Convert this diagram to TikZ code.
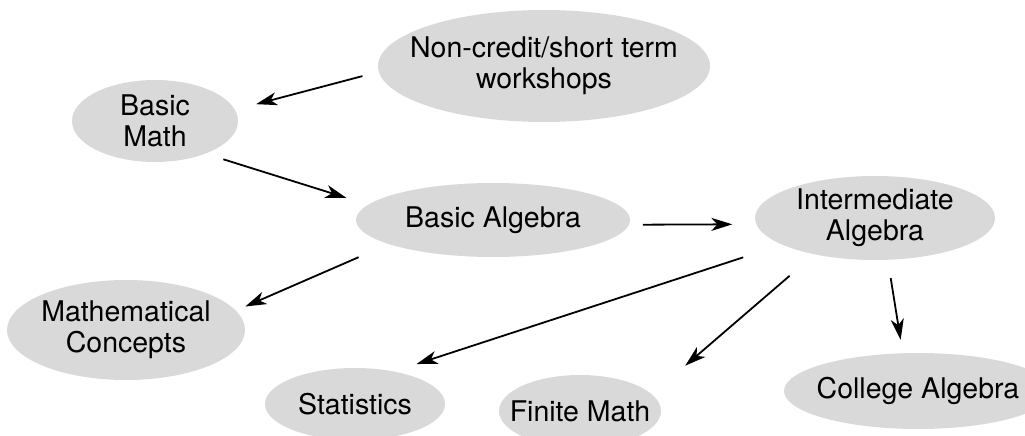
\documentclass[tikz,border=0pt]{standalone}
\usepackage{fontspec}
\setmainfont{TeX Gyre Heros}
\usetikzlibrary{arrows.meta,shapes.geometric}
\definecolor{bubblegray}{RGB}{217,217,217}

\begin{document}
\begin{tikzpicture}[x=1pt,y=-1pt,
    bubble/.style={ellipse,fill=bubblegray,inner xsep=-20pt,inner ysep=-5pt,
      outer sep=0pt,align=center,font=\fontsize{28.5}{31}\selectfont},
    link/.style={-{Stealth[length=21pt,width=13pt,inset=6pt]},line width=1.8pt}]
  \useasboundingbox (0,0) rectangle (1025,436);
  % courses
  \node[bubble,minimum width=332pt,minimum height=112pt] (nc) at (544,66) {Non-credit/short term\\workshops};
  \node[bubble,minimum width=166pt,minimum height=82pt] (bm) at (155,121) {Basic\\Math};
  \node[bubble,minimum width=274pt,minimum height=74pt] (ba) at (493,220) {Basic Algebra};
  \node[bubble,minimum width=240pt,minimum height=84pt] (ia) at (875,218) {Intermediate\\Algebra};
  \node[bubble,minimum width=238pt,minimum height=100pt] (mc) at (126,330) {Mathematical\\Concepts};
  \node[bubble,minimum width=180pt,minimum height=72pt] (st) at (355,404) {Statistics};
  \node[bubble,minimum width=162pt,minimum height=72pt] (fm) at (580,411) {Finite Math};
  \node[bubble,minimum width=268pt,minimum height=76pt] (ca) at (918,391) {College Algebra};
  % sequence
  \draw[link,shorten <=17pt,shorten >=22pt] (nc.182) -- (bm.8);
  \draw[link,shorten <=19pt,shorten >=23pt] (bm.327) -- (ba.173);
  \draw[link,shorten <=14pt,shorten >=24pt] (ba.358) -- (ia.183);
  \draw[link,shorten <=33pt,shorten >=10.5pt] (ba.193) -- (mc.10);
  \draw[link,shorten <=41pt,shorten >=24pt] (ia.196) -- (st.40);
  \draw[link,shorten <=33pt,shorten >=44pt] (ia.211) -- (fm.13);
  \draw[link,shorten <=18.5pt,shorten >=13.5pt] (ia.287) -- (ca.112);
\end{tikzpicture}
\end{document}
